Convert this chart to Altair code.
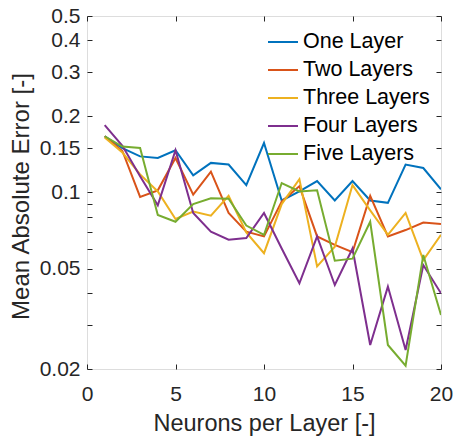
import altair as alt
import pandas as pd

neurons = [1, 2, 3, 4, 5, 6, 7, 8, 9, 10, 11, 12, 13, 14, 15, 16, 17, 18, 19, 20]
series_names = ["One Layer", "Two Layers", "Three Layers", "Four Layers", "Five Layers"]
colors = ["#0072BD", "#D95319", "#EDB120", "#7E2F8E", "#77AC30"]

one_layer = [0.167, 0.150, 0.139, 0.137, 0.147, 0.117, 0.131, 0.129, 0.107, 0.157,
             0.093, 0.101, 0.111, 0.093, 0.111, 0.093, 0.091, 0.129, 0.125, 0.103]
two_layers = [0.167, 0.146, 0.096, 0.102, 0.137, 0.098, 0.121, 0.083, 0.070, 0.067,
              0.092, 0.106, 0.067, 0.062, 0.058, 0.097, 0.067, 0.071, 0.076, 0.075]
three_layers = [0.165, 0.144, 0.118, 0.101, 0.0785, 0.084, 0.081, 0.097, 0.0695, 0.0575,
                0.090, 0.113, 0.051, 0.061, 0.107, 0.085, 0.068, 0.083, 0.054, 0.068]
four_layers = [0.185, 0.153, 0.116, 0.089, 0.147, 0.083, 0.070, 0.065, 0.066, 0.083,
               0.060, 0.0437, 0.067, 0.043, 0.060, 0.0249, 0.0424, 0.0238, 0.0516, 0.0399]
five_layers = [0.167, 0.152, 0.150, 0.0815, 0.0766, 0.090, 0.0948, 0.0945, 0.074, 0.068,
               0.109, 0.101, 0.102, 0.0537, 0.0547, 0.0766, 0.0249, 0.0206, 0.0566, 0.0327]

x_tick_values = [0, 5, 10, 15, 20]
y_tick_values = [0.02, 0.03, 0.04, 0.05, 0.06, 0.07, 0.08, 0.09, 0.1, 0.15, 0.2, 0.3, 0.4, 0.5]
y_label_values = [0.02, 0.05, 0.1, 0.15, 0.2, 0.3, 0.4, 0.5]

all_series = [one_layer, two_layers, three_layers, four_layers, five_layers]
rows = []
for name, vals in zip(series_names, all_series):
    for n, v in zip(neurons, vals):
        rows.append({"neurons": n, "mae": v, "series": name})
df = pd.DataFrame(rows)

FONT = "Liberation Sans"
AX = "#262626"

xs = alt.Scale(domain=[0, 20], nice=False, zero=False)
ys = alt.Scale(type="log", domain=[0.02, 0.5], nice=False)

label_expr = ("indexof([" + ",".join(str(v) for v in y_label_values) +
              "], datum.value) >= 0 ? format(datum.value, '~g') : ''")

lines = alt.Chart(df).mark_line(strokeWidth=2, clip=True).encode(
    x=alt.X("neurons:Q", scale=xs,
            axis=alt.Axis(orient="bottom", values=x_tick_values, offset=-5, tickSize=5,
                          tickColor=AX, domain=False, grid=False, labelPadding=14,
                          labelFlush=False, labelOverlap=False,
                          labelFontSize=21, labelFont=FONT, labelColor=AX,
                          title="Neurons per Layer [-]", titleFont=FONT, titleFontSize=23.5,
                          titleFontWeight="normal", titleColor=AX, titlePadding=7)),
    y=alt.Y("mae:Q", scale=ys,
            axis=alt.Axis(orient="left", values=y_tick_values, offset=-5, tickSize=5,
                          tickColor=AX, domain=False, grid=False, labelPadding=7,
                          labelFlush=False, labelOverlap=False,
                          labelExpr=label_expr, labelFontSize=21, labelFont=FONT,
                          labelColor=AX, title="Mean Absolute Error [-]", titleFont=FONT,
                          titleFontSize=24, titleFontWeight="normal", titleColor=AX,
                          titlePadding=6, titleY=180)),
    color=alt.Color("series:N",
                    scale=alt.Scale(domain=series_names, range=colors),
                    legend=alt.Legend(orient="none", legendX=180, legendY=10, title=None,
                                      symbolType="stroke", symbolSize=900,
                                      symbolStrokeWidth=2, labelFontSize=21.5,
                                      labelFont=FONT, labelColor="black", rowPadding=1,
                                      padding=0, labelOffset=4, labelLimit=0)),
)

frame = alt.Chart(df).mark_line(strokeOpacity=0).encode(
    x=alt.X("neurons:Q", scale=xs,
            axis=alt.Axis(orient="top", values=x_tick_values, offset=-5, tickSize=5,
                          tickColor=AX, labels=False, domain=False, grid=False, title=None)),
    y=alt.Y("mae:Q", scale=ys,
            axis=alt.Axis(orient="right", values=y_tick_values, offset=-5, tickSize=5,
                          tickColor=AX, labels=False, domain=False, grid=False, title=None)),
    detail="series:N",
)

chart = alt.layer(lines, frame).resolve_axis(
    x="independent", y="independent"
).properties(
    width=354, height=353,
    autosize=alt.AutoSizeParams(type="none"),
    padding={"left": 87, "top": 16, "right": 13, "bottom": 70},
).configure_view(stroke=AX, strokeWidth=1.3).configure(background="white")

chart.save("out.html", embed_options={"renderer": "svg", "actions": False})
